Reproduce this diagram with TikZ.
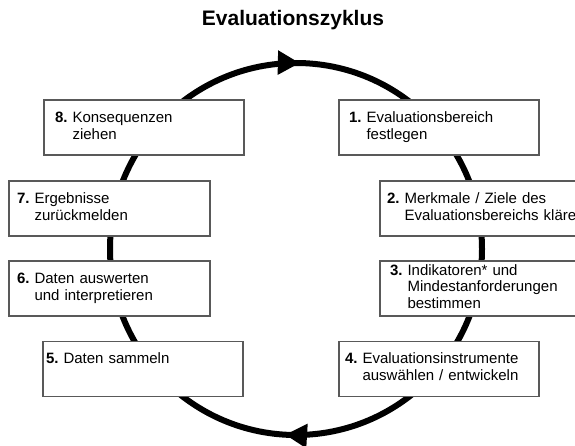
\documentclass[tikz,border=0pt]{standalone}
\usepackage{fontspec}
\setmainfont{Liberation Sans}
\usetikzlibrary{arrows.meta,decorations.markings}
\newcommand{\nrtext}[2]{\textbf{#1.}~\begin{tabular}[t]{@{}l@{}}#2\end{tabular}}

\begin{document}
\begin{tikzpicture}[x=1pt,y=1pt,
    stufe/.style={draw=black!65, line width=1.5pt, fill=white, minimum height=55pt,
      inner ysep=0pt, align=left, font=\fontsize{15}{16.7}\selectfont},
    kreis/.style={line width=6pt, postaction={decorate}, decoration={markings,
        mark=at position 0.2533 with {\arrow{Triangle[length=22pt,width=23pt]}},
        mark=at position 0.7594 with {\arrow{Triangle[length=22pt,width=23pt]}}}}]
  \useasboundingbox (0,0) rectangle (575,445);
  \clip (0,0) rectangle (575,445);

  \node[font=\fontsize{21}{25}\selectfont\bfseries] (titel) at (293,425) {Evaluationszyklus};

  \coordinate (mitte) at (296,196);
  \draw[kreis] (mitte) ++(180:186) arc[start angle=180, delta angle=-360, radius=186];

  \node[stufe, text width=178pt, inner xsep=11pt] (s8) at (144,317.5) {\nrtext{8}{Konsequenzen\\ziehen}};
  \node[stufe, text width=180pt, inner xsep=10pt] (s1) at (439,317.5) {\nrtext{1}{Evaluationsbereich\\festlegen}};
  \node[stufe, text width=185pt, inner xsep=8pt] (s7) at (109.5,236.5) {\nrtext{7}{Ergebnisse\\zurückmelden}};
  \node[stufe, text width=196pt, inner xsep=7pt] (s2) at (485,236.5) {\nrtext{2}{Merkmale / Ziele des\\Evaluationsbereichs klären}};
  \node[stufe, text width=185pt, inner xsep=8pt] (s6) at (109.5,156.5) {\nrtext{6}{Daten auswerten\\und interpretieren}};
  \node[stufe, text width=190pt, inner xsep=10pt] (s3) at (485,156.5) {\nrtext{3}{Indikatoren* und\\Mindestanforderungen\\bestimmen}};
  \node[stufe, text width=194pt, inner xsep=3pt] (s5) at (143,76) {\nrtext{5}{Daten sammeln\\ \mbox{}}};
  \node[stufe, text width=188pt, inner xsep=6pt] (s4) at (439,76) {\nrtext{4}{Evaluationsinstrumente\\auswählen / entwickeln}};
\end{tikzpicture}
\end{document}
